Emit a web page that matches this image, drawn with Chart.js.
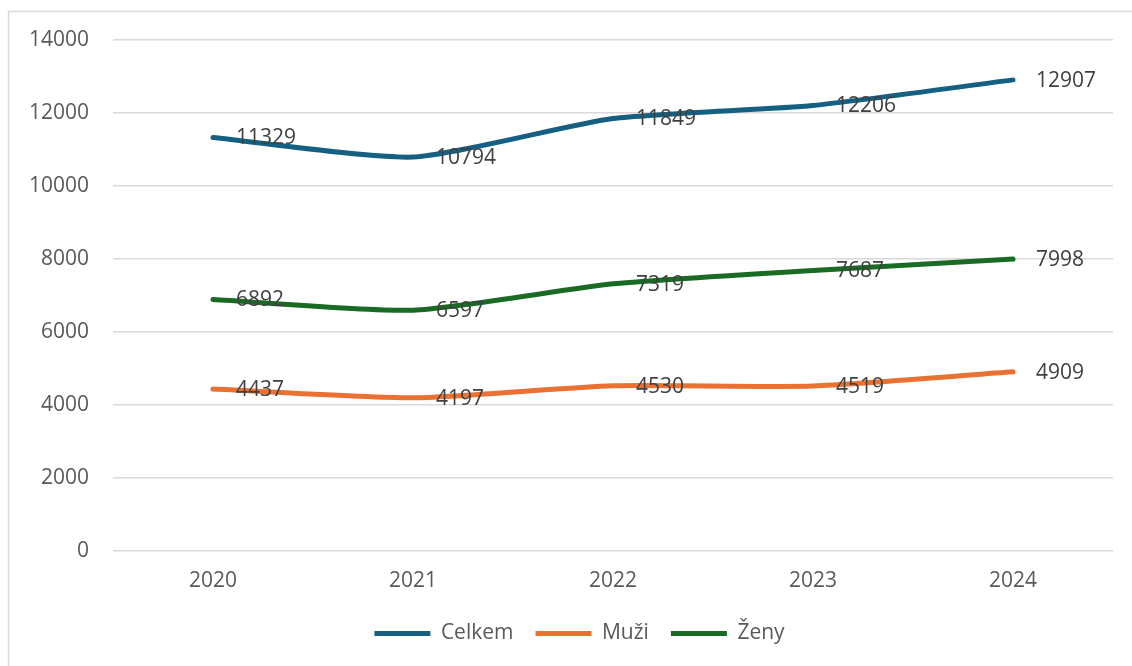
<!DOCTYPE html>
<html lang="cs">
<head>
<meta charset="UTF-8">
<title>Celkem / Muži / Ženy</title>
<script src="https://cdn.jsdelivr.net/npm/chart.js@4.4.1/dist/chart.umd.min.js"></script>
<style>
  html, body { margin: 0; padding: 0; background: #fff; }
  #wrap { width: 1132px; height: 666px; position: relative; }
</style>
</head>
<body>
<div id="wrap"><canvas id="chart" width="1132" height="666"></canvas></div>
<script>
const years = ['2020', '2021', '2022', '2023', '2024'];
const celkem = [11329, 10794, 11849, 12206, 12907];
const muzi = [4437, 4197, 4530, 4519, 4909];
const zeny = [6892, 6597, 7319, 7687, 7998];
const yTicks = [0, 2000, 4000, 6000, 8000, 10000, 12000, 14000];

const FONT = '"Open Sans", "Liberation Sans", sans-serif';

// excel-like labels to the right of each point
const pointLabels = {
  id: 'pointLabels',
  afterDatasetsDraw(chart) {
    const ctx = chart.ctx;
    ctx.save();
    ctx.font = '21px ' + FONT;
    ctx.fillStyle = '#404040';
    ctx.textAlign = 'left';
    ctx.textBaseline = 'middle';
    chart.data.datasets.forEach((ds, i) => {
      const meta = chart.getDatasetMeta(i);
      meta.data.forEach((pt, j) => {
        ctx.fillText(String(ds.data[j]), pt.x + 23, pt.y + 1);
      });
    });
    ctx.restore();
  }
};

// chart frame (only top and left edges are inside the picture)
const frame = {
  id: 'frame',
  beforeDraw(chart) {
    const ctx = chart.ctx;
    ctx.save();
    ctx.strokeStyle = '#d9d9d9';
    ctx.lineWidth = 1.5;
    ctx.beginPath();
    ctx.moveTo(8.5, 666);
    ctx.lineTo(8.5, 11.5);
    ctx.lineTo(1132, 11.5);
    ctx.stroke();
    ctx.restore();
  }
};

// the legend sits a bit right of the canvas centre
const legendShift = {
  id: 'legendShift',
  afterLayout(chart) {
    chart.legend.left += 23;
    chart.legend.right += 23;
  }
};

function line(label, data, color) {
  return {
    label: label,
    data: data,
    borderColor: color,
    backgroundColor: color,
    borderWidth: 5,
    borderCapStyle: 'round',
    borderJoinStyle: 'round',
    pointRadius: 0,
    tension: 0.2,
    fill: false
  };
}

const ctx = document.getElementById('chart').getContext('2d');
new Chart(ctx, {
  type: 'line',
  data: {
    labels: years,
    datasets: [
      line('Celkem', celkem, '#156082'),
      line('Muži', muzi, '#E97132'),
      line('Ženy', zeny, '#196B24')
    ]
  },
  options: {
    responsive: false,
    animation: false,
    layout: { padding: { top: 40, right: 19, left: 0, bottom: 12 } },
    scales: {
      x: {
        offset: true,
        grid: { display: false },
        border: { display: false },
        ticks: { color: '#595959', font: { family: FONT, size: 21 }, padding: 9 },
        afterFit(scale) { scale.height = 50; }
      },
      y: {
        min: 0,
        max: 14000,
        afterBuildTicks(scale) { scale.ticks = yTicks.map(v => ({ value: v })); },
        grid: { color: '#d9d9d9', lineWidth: 1.5, drawTicks: false },
        border: { display: false },
        ticks: {
          color: '#595959',
          font: { family: FONT, size: 21 },
          padding: 24,
          callback: v => String(v)
        },
        afterFit(scale) { scale.width = 113; }
      }
    },
    plugins: {
      tooltip: { enabled: false },
      legend: {
        position: 'bottom',
        labels: {
          usePointStyle: true,
          pointStyle: 'line',
          pointStyleWidth: 56,
          padding: 22,
          color: '#595959',
          font: { family: FONT, size: 21 }
        }
      }
    }
  },
  plugins: [pointLabels, frame, legendShift]
});
</script>
</body>
</html>
